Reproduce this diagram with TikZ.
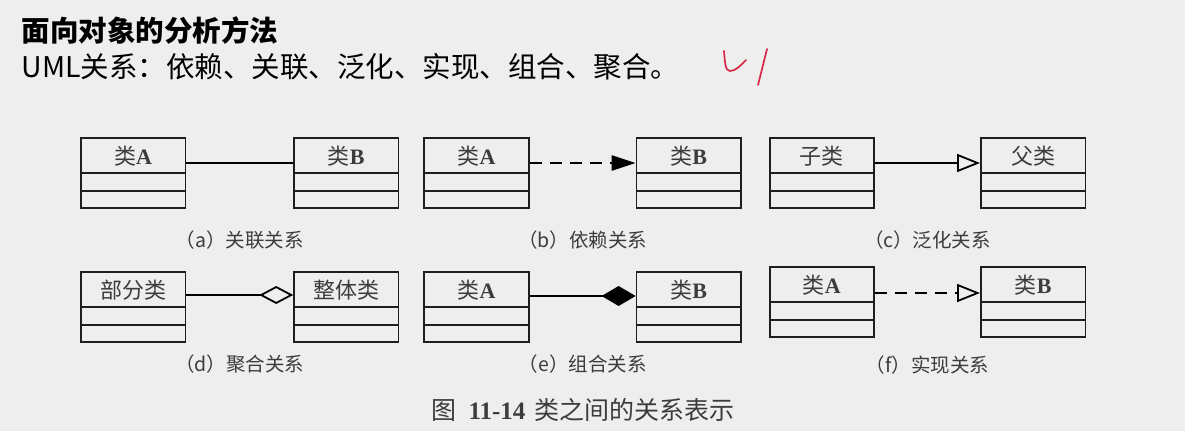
\documentclass[tikz,border=0pt]{standalone}
\usepackage{fontspec}
\setmainfont{Liberation Serif}
\newfontfamily\cjk{Noto Sans CJK SC}
\usetikzlibrary{positioning, arrows.meta, shapes.multipart, calc}
\definecolor{slideBg}{RGB}{238, 238, 238}
\definecolor{lineDark}{RGB}{30, 30, 30}
\definecolor{textGray}{RGB}{60, 60, 60}
\definecolor{inkRed}{RGB}{214, 40, 72}
\newcommand{\serifbf}[1]{{\rmfamily\bfseries #1}}
\newcommand{\clsname}[1]{\rule[-8pt]{0pt}{33.4pt}#1\nodepart{two}\rule{0pt}{16.4pt}\nodepart{three}\rule{0pt}{15.4pt}}

\begin{document}
\begin{tikzpicture}[
    node distance=0pt,
    head/.style={anchor=west, text=black, font=\cjk\fontsize{28.5}{30}\selectfont},
    classbox/.style={
        rectangle split, rectangle split parts=3, draw=lineDark, line width=1.7pt,
        minimum width=104.5pt, inner sep=0pt, text=textGray,
        font=\cjk\fontsize{22}{24}\selectfont
    },
    capt/.style={text=textGray, font=\cjk\fontsize{19.5}{21}\selectfont},
    link/.style={draw=black, line width=2.6pt},
    deplink/.style={link, dash pattern=on 12pt off 8pt},
    scribble/.style={draw=inkRed, line width=1.7pt, line cap=round, line join=round}
]
\path[fill=slideBg, use as bounding box] (0,0) rectangle (1185pt,-431pt);

% --- Heading ---------------------------------------------------------------
\node[head, font=\cjk\bfseries\fontsize{28.5}{30}\selectfont] (title) at (18pt,-30pt) {面向对象的分析方法};
\node[head] (sub) at (18pt,-67pt) {UML关系：依赖、关联、泛化、实现、组合、聚合。};
% handwritten mark
\draw[scribble] (724pt,-51pt) .. controls (725pt,-62pt) and (725pt,-71pt) .. (730pt,-71pt)
    .. controls (736pt,-71pt) and (741pt,-65pt) .. (746pt,-60pt);
\draw[scribble] (767pt,-49pt) -- (758pt,-85pt);

% --- Row 1: association, dependency, generalization -------------------------
\node[classbox, anchor=north west] (a1) at (80pt,-137pt) {\clsname{类\serifbf{A}}};
\node[classbox, right=107pt of a1] (a2) {\clsname{类\serifbf{B}}};
\node[classbox, right=24pt of a2] (b1) {\clsname{类\serifbf{A}}};
\node[classbox, right=106pt of b1] (b2) {\clsname{类\serifbf{B}}};
\node[classbox, right=27pt of b2] (c1) {\clsname{子类}};
\node[classbox, right=105pt of c1] (c2) {\clsname{父类}};

% --- Row 2: aggregation, composition, realization --------------------------
\node[classbox, below=62pt of a1] (d1) {\clsname{部分类}};
\node[classbox, right=107pt of d1] (d2) {\clsname{整体类}};
\node[classbox, below=62pt of b1] (e1) {\clsname{类\serifbf{A}}};
\node[classbox, right=106pt of e1] (e2) {\clsname{类\serifbf{B}}};
\node[classbox, below=57pt of c1] (f1) {\clsname{类\serifbf{A}}};
\node[classbox, right=105pt of f1] (f2) {\clsname{类\serifbf{B}}};

% --- Connectors -------------------------------------------------------------
\draw[link] ([yshift=-26pt]a1.north east) -- ([yshift=-26pt]a2.north west);
\draw[deplink, -{Triangle[length=24pt, width=15pt]}] ([yshift=-26pt]b1.north east) -- ([yshift=-26pt]b2.north west);
\draw[link, -{Triangle[open, length=23pt, width=18pt, line width=1.8pt]}] ([yshift=-26pt]c1.north east) -- ([yshift=-26pt]c2.north west);
\draw[link, -{Diamond[open, length=34pt, width=18pt, line width=1.8pt]}] ([yshift=-24pt]d1.north east) -- ([yshift=-24pt]d2.north west);
\draw[link, -{Diamond[length=34pt, width=20pt]}] ([yshift=-25pt]e1.north east) -- ([yshift=-25pt]e2.north west);
\draw[deplink, -{Triangle[open, length=23pt, width=18pt, line width=1.8pt]}] ([yshift=-27pt]f1.north east) -- ([yshift=-27pt]f2.north west);

% --- Captions ---------------------------------------------------------------
\node[capt] (capa) at ($(a1.south)!.5!(a2.south)+(0,-31pt)$) {（a）关联关系};
\node[capt] (capb) at ($(b1.south)!.5!(b2.south)+(0,-31pt)$) {（b）依赖关系};
\node[capt] (capc) at ($(c1.south)!.5!(c2.south)+(0,-31pt)$) {（c）泛化关系};
\node[capt] (capd) at ($(d1.south)!.5!(d2.south)+(0,-21pt)$) {（d）聚合关系};
\node[capt] (cape) at ($(e1.south)!.5!(e2.south)+(0,-21pt)$) {（e）组合关系};
\node[capt] (capf) at ($(f1.south)!.5!(f2.south)+(0,-27pt)$) {（f）实现关系};
\node[capt, font=\cjk\fontsize{25}{27}\selectfont] (figcap) at (583pt,-410pt) {图\hspace{12pt}\serifbf{11-14}\hspace{9pt}类之间的关系表示};

\end{tikzpicture}
\end{document}
